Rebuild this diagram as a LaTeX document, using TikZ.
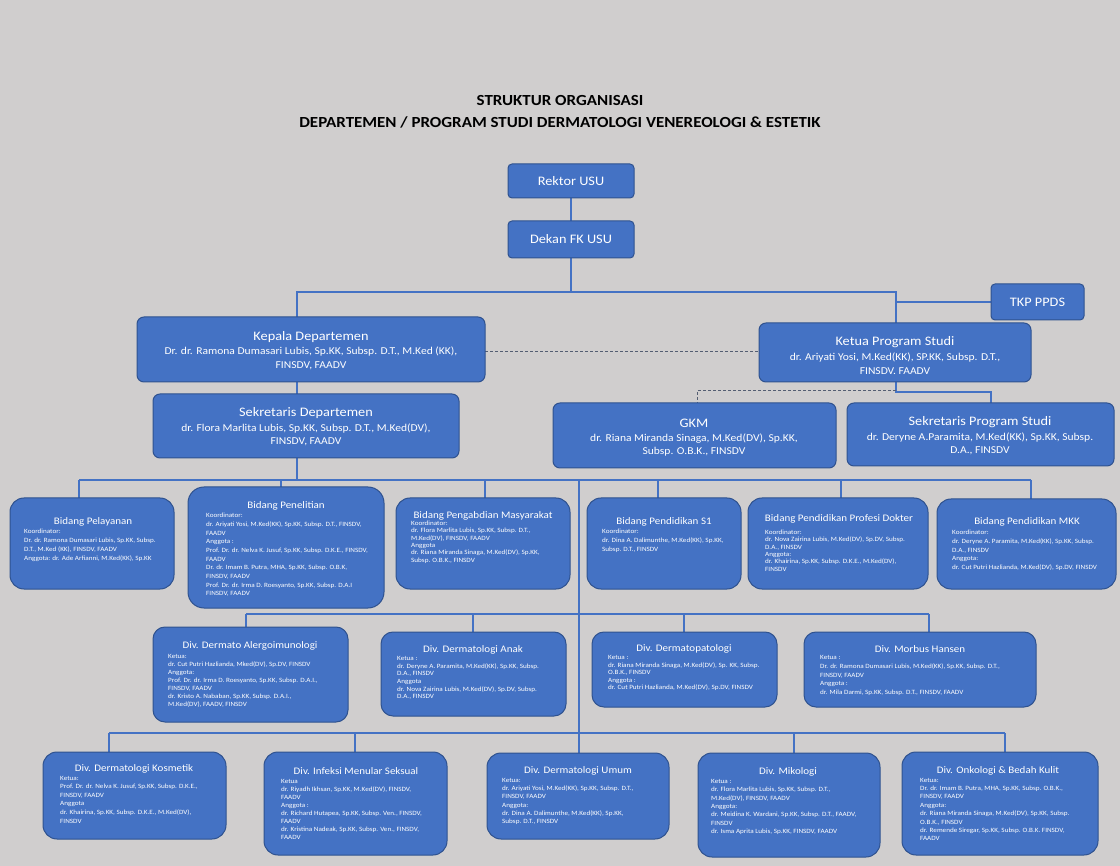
\documentclass[tikz,border=0pt]{standalone}
\usepackage{fontspec}
\setmainfont{Carlito}[FakeStretch=1.1]
\definecolor{bgc}{RGB}{208,206,206}
\definecolor{boxfill}{RGB}{68,114,196}
\definecolor{boxedge}{RGB}{47,82,143}
\definecolor{linec}{RGB}{68,114,196}
\definecolor{dashc}{RGB}{84,94,114}
\pgfdeclarelayer{backlayer}
\pgfdeclarelayer{linelayer}
\pgfsetlayers{backlayer,linelayer,main}
\newcommand\myfs[2]{\fontsize{#1}{#2}\selectfont}
\newcommand\obox[6]{\node[box,rounded corners=#6,minimum width={(#4-#2)*1pt},minimum height={(#5-#3)*1pt}] (#1) at ({(#2+#4)/2},{(#3+#5)/2}) {};}
\tikzset{
  box/.style={draw=boxedge,fill=boxfill,line width=1pt,inner sep=0pt,outer sep=0pt},
  conn/.style={draw=linec,line width=1.5pt},
  dsh/.style={draw=dashc,line width=1pt,dash pattern=on 3pt off 2pt},
  ttl/.style={text=white,inner sep=0pt,anchor=center,font=\myfs{10}{12}},
  bigttl/.style={text=white,inner sep=0pt,anchor=center,font=\myfs{13}{15}},
  subt/.style={text=white,inner sep=0pt,anchor=center,align=center},
  bdy/.style={text=white,inner sep=0pt,anchor=west,align=left},
  head/.style={text=black,inner sep=0pt,anchor=center,font=\bfseries\myfs{15.4}{17}}
}
\begin{document}
\begin{tikzpicture}[x=1pt,y=-1pt]
\begin{pgfonlayer}{backlayer}
\fill[bgc] (0,0) rectangle (1120,866);
\end{pgfonlayer}
% heading
\node[head] (h1) at (560,101) {STRUKTUR ORGANISASI};
\node[head] (h2) at (560,122) {DEPARTEMEN / PROGRAM STUDI DERMATOLOGI VENEREOLOGI \& ESTETIK};
% junction coordinates
\coordinate (jA) at (297,292);
\coordinate (jB) at (896,292);
\coordinate (jD) at (600,352);
\coordinate (jC) at (896,392);
\coordinate (jE) at (991,392);
\coordinate (jF) at (697,391);
\coordinate (d1) at (79,480);
\coordinate (d2) at (281,480);
\coordinate (d3) at (485,480);
\coordinate (d4) at (658,480);
\coordinate (d5) at (841,480);
\coordinate (d6) at (1031,480);
\coordinate (tr2) at (579,480);
\coordinate (e1) at (246,614);
\coordinate (e2) at (473,614);
\coordinate (e3) at (684,614);
\coordinate (e4) at (929,614);
\coordinate (f1) at (109,733);
\coordinate (f2) at (355,733);
\coordinate (f3) at (579,733);
\coordinate (f4) at (794,733);
\coordinate (f5) at (1005,733);
% boxes
\obox{rektor}{508}{164}{634}{198}{4pt}
\obox{dekan}{508}{221}{634}{258}{4pt}
\obox{tkp}{991}{284}{1084}{320}{4pt}
\obox{kepala}{137}{317}{485}{382}{7pt}
\obox{ketua}{759}{323}{1031}{382}{7pt}
\obox{sekdep}{153}{394}{459}{458}{7pt}
\obox{gkm}{553}{403}{836}{468}{7pt}
\obox{sekps}{847}{403}{1114}{466}{7pt}
\obox{pel}{10}{498}{174}{589}{14pt}
\obox{pen}{188}{487}{384}{608}{16pt}
\obox{peng}{396}{498}{570}{589}{14pt}
\obox{sone}{587}{498}{741}{589}{14pt}
\obox{prof}{748}{498}{928}{589}{14pt}
\obox{mkk}{937}{499}{1116}{589}{14pt}
\obox{al}{153}{627}{348}{722}{12pt}
\obox{anak}{381}{632}{566}{716}{12pt}
\obox{pat}{592}{632}{777}{707}{12pt}
\obox{mh}{804}{632}{1036}{707}{12pt}
\obox{kos}{43}{752}{226}{839}{14pt}
\obox{ims}{264}{752}{447}{855}{14pt}
\obox{um}{487}{753}{669}{839}{14pt}
\obox{mik}{698}{753}{880}{857}{14pt}
\obox{onk}{902}{752}{1098}{855}{14pt}
% connectors
\begin{pgfonlayer}{linelayer}
\draw[conn] (rektor.south) -- (dekan.north);
\draw[conn] (dekan.south) -- (dekan.south |- jA);
\draw[conn] (kepala.north -| jA) -- (jA) -- (jB) -- (ketua.north -| jB);
\draw[conn] (tkp.west) -- (tkp.west -| jB);
\draw[dsh] (kepala.east |- jD) -- (ketua.west |- jD);
\draw[conn] (kepala.south -| jA) -- (sekdep.north -| jA);
\draw[conn] (ketua.south -| jC) -- (jC) -- (jE) -- (sekps.north -| jE);
\draw[dsh] (jC |- jF) -- (jF) -- (gkm.north -| jF);
\draw[conn] (sekdep.south -| jA) -- (jA |- d1);
\draw[conn] (d1) -- (d6);
\draw[conn] (d1) -- (pel.north -| d1);
\draw[conn] (d2) -- (pen.north -| d2);
\draw[conn] (d3) -- (peng.north -| d3);
\draw[conn] (d4) -- (sone.north -| d4);
\draw[conn] (d5) -- (prof.north -| d5);
\draw[conn] (d6) -- (mkk.north -| d6);
\draw[conn] (tr2) -- (f3);
\draw[conn] (e1) -- (e4);
\draw[conn] (e1) -- (al.north -| e1);
\draw[conn] (e2) -- (anak.north -| e2);
\draw[conn] (e3) -- (pat.north -| e3);
\draw[conn] (e4) -- (mh.north -| e4);
\draw[conn] (f1) -- (f5);
\draw[conn] (f1) -- (kos.north -| f1);
\draw[conn] (f2) -- (ims.north -| f2);
\draw[conn] (f3) -- (um.north -| f3);
\draw[conn] (f4) -- (mik.north -| f4);
\draw[conn] (f5) -- (onk.north -| f5);
\end{pgfonlayer}
% top texts
\node[bigttl] (rektorT) at (rektor) {Rektor USU};
\node[bigttl] (dekanT) at (dekan) {Dekan FK USU};
\node[bigttl] (tkpT) at (tkp) {TKP PPDS};
\node[bigttl] (kepT) at (311,337) {Kepala Departemen};
\node[subt,font=\myfs{10.5}{13.5}] (kepS) at (311,358.5) {Dr. dr. Ramona Dumasari Lubis, Sp.KK, Subsp. D.T., M.Ked (KK),\\FINSDV, FAADV};
\node[bigttl] (ketT) at (895,342) {Ketua Program Studi};
\node[subt,font=\myfs{10.5}{13.5}] (ketS) at (895,363.5) {dr. Ariyati Yosi, M.Ked(KK), SP.KK, Subsp. D.T.,\\FINSDV. FAADV};
\node[bigttl] (sdT) at (306,413) {Sekretaris Departemen};
\node[subt,font=\myfs{10.5}{13.5}] (sdS) at (306,435) {dr. Flora Marlita Lubis, Sp.KK, Subsp. D.T., M.Ked(DV),\\FINSDV, FAADV};
\node[bigttl] (gkmT) at (694,423) {GKM};
\node[subt,font=\myfs{10.5}{13.5}] (gkmS) at (694,445) {dr. Riana Miranda Sinaga, M.Ked(DV), Sp.KK,\\Subsp. O.B.K., FINSDV};
\node[bigttl] (spT) at (980,422) {Sekretaris Program Studi};
\node[subt,font=\myfs{10.5}{13.5}] (spS) at (980,444) {dr. Deryne A.Paramita, M.Ked(KK), Sp.KK, Subsp.\\D.A., FINSDV};
% row 1
\node[ttl] (pelT) at (93,522) {Bidang Pelayanan};
\node[bdy,font=\myfs{6.5}{9}] (pelB) at (24,545.5) {Koordinator:\\Dr. dr. Ramona Dumasari Lubis, Sp.KK, Subsp.\\D.T., M.Ked (KK), FINSDV, FAADV\\Anggota: dr. Ade Arfianni, M.Ked(KK), Sp.KK};
\node[ttl] (penT) at (286,506) {Bidang Penelitian};
\node[bdy,font=\myfs{6.5}{8.67}] (penB) at (206,555) {Koordinator:\\dr. Ariyati Yosi, M.Ked(KK), Sp.KK, Subsp. D.T., FINSDV,\\FAADV\\Anggota :\\Prof. Dr. dr. Nelva K. Jusuf, Sp.KK, Subsp. D.K.E., FINSDV,\\FAADV\\Dr. dr. Imam B. Putra, MHA, Sp.KK, Subsp. O.B.K,\\FINSDV, FAADV\\Prof. Dr. dr. Irma D. Roesyanto, Sp.KK, Subsp. D.A.I\\FINSDV, FAADV};
\node[ttl] (pengT) at (483,516) {Bidang Pengabdian Masyarakat};
\node[bdy,font=\myfs{6.5}{7.4}] (pengB) at (411,542) {Koordinator:\\dr. Flora Marlita Lubis, Sp.KK, Subsp. D.T.,\\M.Ked(DV), FINSDV, FAADV\\Anggota\\dr. Riana Miranda Sinaga, M.Ked(DV), Sp.KK,\\Subsp. O.B.K., FINSDV};
\node[ttl] (soneT) at (664,522) {Bidang Pendidikan S1};
\node[bdy,font=\myfs{6.5}{9}] (soneB) at (602,541) {Koordinator:\\dr. Dina A. Dalimunthe, M.Ked(KK), Sp.KK,\\Subsp. D.T., FINSDV};
\node[ttl] (profT) at (839,519) {Bidang Pendidikan Profesi Dokter};
\node[bdy,font=\myfs{6.5}{7.4}] (profB) at (765,550.5) {Koordinator:\\dr. Nova Zairina Lubis, M.Ked(DV), Sp.DV, Subsp.\\D.A., FINSDV\\Anggota:\\dr. Khairina, Sp.KK, Subsp. D.K.E., M.Ked(DV),\\FINSDV};
\node[ttl] (mkkT) at (1027,522) {Bidang Pendidikan MKK};
\node[bdy,font=\myfs{6.5}{8.75}] (mkkB) at (952,550.5) {Koordinator:\\dr. Deryne A. Paramita, M.Ked(KK), Sp.KK, Subsp.\\D.A., FINSDV\\Anggota:\\dr. Cut Putri Hazlianda, M.Ked(DV), Sp.DV, FINSDV};
% row 2
\node[ttl] (alT) at (250,646) {Div. Dermato Alergoimunologi};
\node[bdy,font=\myfs{6.5}{8}] (alB) at (168,681) {Ketua:\\dr. Cut Putri Hazlianda, Mked(DV), Sp.DV, FINSDV\\Anggota:\\Prof. Dr. dr. Irma D. Roesyanto, Sp.KK, Subsp. D.A.I.,\\FINSDV, FAADV\\dr. Kristo A. Nababan, Sp.KK, Subsp. D.A.I.,\\M.Ked(DV), FAADV, FINSDV};
\node[ttl] (anakT) at (473,650) {Div. Dermatologi Anak};
\node[bdy,font=\myfs{6.5}{7.6}] (anakB) at (397,678) {Ketua :\\dr. Deryne A. Paramita, M.Ked(KK), Sp.KK, Subsp.\\D.A., FINSDV\\Anggota\\dr. Nova Zairina Lubis, M.Ked(DV), Sp.DV, Subsp.\\D.A., FINSDV};
\node[ttl] (patT) at (684,649) {Div. Dermatopatologi};
\node[bdy,font=\myfs{6.5}{7.5}] (patB) at (608,673) {Ketua :\\dr. Riana Miranda Sinaga, M.Ked(DV), Sp. KK, Subsp.\\O.B.K., FINSDV\\Anggota :\\dr. Cut Putri Hazlianda, M.Ked(DV), Sp.DV, FINSDV};
\node[ttl] (mhT) at (920,649) {Div. Morbus Hansen};
\node[bdy,font=\myfs{6.5}{8.75}] (mhB) at (820,675.5) {Ketua :\\Dr. dr. Ramona Dumasari Lubis, M.Ked(KK), Sp.KK, Subsp. D.T.,\\FINSDV, FAADV\\Anggota :\\dr. Mila Darmi, Sp.KK, Subsp. D.T., FINSDV, FAADV};
% row 3
\node[ttl] (kosT) at (134,769) {Div. Dermatologi Kosmetik};
\node[bdy,font=\myfs{6.5}{8.6}] (kosB) at (60,799.5) {Ketua:\\Prof. Dr. dr. Nelva K. Jusuf, Sp.KK, Subsp. D.K.E.,\\FINSDV, FAADV\\Anggota\\dr. Khairina, Sp.KK, Subsp. D.K.E., M.Ked(DV),\\FINSDV};
\node[ttl] (imsT) at (356,771) {Div. Infeksi Menular Seksual};
\node[bdy,font=\myfs{6.5}{8.1}] (imsB) at (281,809.5) {Ketua\\dr. Riyadh Ikhsan, Sp.KK, M.Ked(DV), FINSDV,\\FAADV\\Anggota :\\dr. Richard Hutapea, Sp.KK, Subsp. Ven., FINSDV,\\FAADV\\dr. Kristina Nadeak, Sp.KK, Subsp. Ven., FINSDV,\\FAADV};
\node[ttl] (umT) at (578,771) {Div. Dermatologi Umum};
\node[bdy,font=\myfs{6.5}{8.2}] (umB) at (502,801.5) {Ketua:\\dr. Ariyati Yosi, M.Ked(KK), Sp.KK, Subsp. D.T.,\\FINSDV, FAADV\\Anggota:\\dr. Dina A. Dalimunthe, M.Ked(KK), Sp.KK,\\Subsp. D.T., FINSDV};
\node[ttl] (mikT) at (788,772) {Div. Mikologi};
\node[bdy,font=\myfs{6.5}{8.3}] (mikB) at (711,807) {Ketua :\\dr. Flora Marlita Lubis, Sp.KK, Subsp. D.T.,\\M.Ked(DV), FINSDV, FAADV\\Anggota:\\dr. Meidina K. Wardani, Sp.KK, Subsp. D.T., FAADV,\\FINSDV\\dr. Isma Aprita Lubis, Sp.KK, FINSDV, FAADV};
\node[ttl] (onkT) at (998,771) {Div. Onkologi \& Bedah Kulit};
\node[bdy,font=\myfs{6.5}{8.4}] (onkB) at (920,809.5) {Ketua:\\Dr. dr. Imam B. Putra, MHA, Sp.KK, Subsp. O.B.K.,\\FINSDV, FAADV\\Anggota:\\dr. Riana Miranda Sinaga, M.Ked(DV), Sp.KK, Subsp.\\O.B.K., FINSDV\\dr. Remende Siregar, Sp.KK, Subsp. O.B.K. FINSDV,\\FAADV};
\end{tikzpicture}
\end{document}
